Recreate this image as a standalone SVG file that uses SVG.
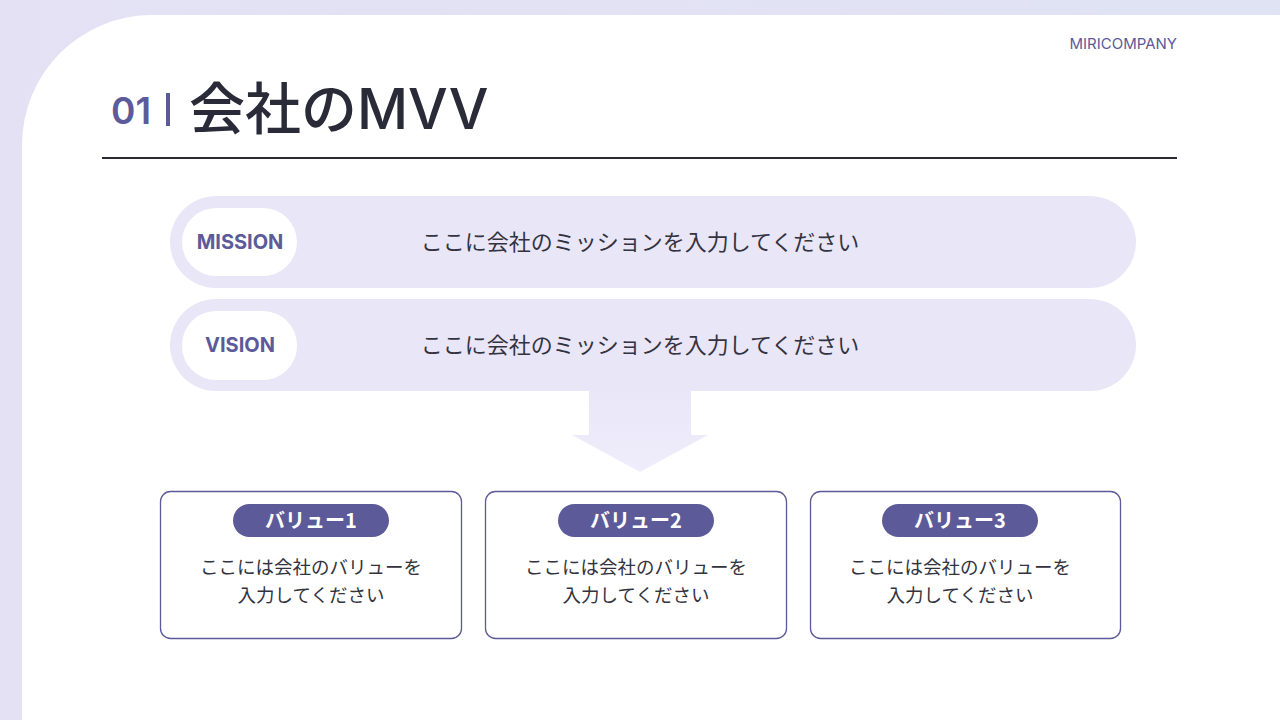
<svg xmlns="http://www.w3.org/2000/svg" width="1280" height="720" viewBox="0 0 1280 720">
<defs>
<linearGradient id="bg" x1="0" y1="0" x2="1" y2="0">
<stop offset="0" stop-color="#e4e1f4"/>
<stop offset="1" stop-color="#dfe3f3"/>
</linearGradient>
<linearGradient id="arr" x1="0" y1="0" x2="0" y2="1">
<stop offset="0" stop-color="#e9e6f8"/>
<stop offset="1" stop-color="#efedfb"/>
</linearGradient>
<style>
.pill{fill:#e9e6f8}
.inner{fill:#ffffff}
.lbl{font-family:Inter,"Noto Sans",sans-serif;font-weight:700;font-size:20px;fill:#5c5a99;text-anchor:middle}
.msg{font-family:"Noto Sans CJK JP",sans-serif;font-size:22px;fill:#333340;text-anchor:middle}
.box{fill:#ffffff;stroke:#5c5a99;stroke-width:1.3}
.tag{fill:#5c5a99}
.tagt{font-family:"Noto Sans CJK JP",sans-serif;font-weight:700;font-size:20px;fill:#ffffff;text-anchor:middle}
.body{font-family:"Noto Sans CJK JP",sans-serif;font-size:18.5px;fill:#333340;text-anchor:middle}
</style>
</defs>
<rect width="1280" height="720" fill="url(#bg)"/>
<path d="M152 15 H1280 V720 H22 V145 A130 130 0 0 1 152 15 Z" fill="#ffffff"/>
<g id="header">
<text x="1177" y="49" text-anchor="end" font-family="Inter,'Noto Sans',sans-serif" font-size="15" fill="#5c5a99">MIRICOMPANY</text>
<text x="111" y="124" font-family="Inter,'Noto Sans',sans-serif" font-size="37" font-weight="600" fill="#5c5a99">01</text>
<rect x="166" y="93" width="4" height="33" fill="#5c5a99"/>
<text x="189" y="129" font-family="Inter,'Noto Sans CJK JP',sans-serif" font-size="56" font-weight="500" fill="#2a2a38">会社のMVV</text>
<line x1="102" y1="158" x2="1177" y2="158" stroke="#2a2a35" stroke-width="2"/>
</g>
<g id="mission">
<rect class="pill" x="170" y="196" width="966" height="92" rx="46"/>
<rect class="inner" x="182" y="208" width="115" height="68" rx="34"/>
<text class="lbl" x="240" y="249">MISSION</text>
<text class="msg" x="640" y="250">ここに会社のミッションを入力してください</text>
</g>
<g id="vision">
<rect class="pill" x="170" y="299" width="966" height="92" rx="46"/>
<rect class="inner" x="182" y="311" width="115" height="69" rx="34"/>
<text class="lbl" x="240" y="352">VISION</text>
<text class="msg" x="640" y="353">ここに会社のミッションを入力してください</text>
</g>
<g id="connectors">
<path d="M589 391 H691 V435 H708 L640 472 L572 435 H589 Z" fill="url(#arr)"/>
</g>
<g id="value1">
<rect class="box" x="160.5" y="491.5" width="301" height="147" rx="10"/>
<rect class="tag" x="233" y="504" width="156" height="33" rx="16.5"/>
<text class="tagt" x="311" y="528">バリュー1</text>
<text class="body" x="311" y="574">ここには会社のバリューを</text>
<text class="body" x="311" y="602">入力してください</text>
</g>
<g id="value2">
<rect class="box" x="485.5" y="491.5" width="301" height="147" rx="10"/>
<rect class="tag" x="558" y="504" width="156" height="33" rx="16.5"/>
<text class="tagt" x="636" y="528">バリュー2</text>
<text class="body" x="636" y="574">ここには会社のバリューを</text>
<text class="body" x="636" y="602">入力してください</text>
</g>
<g id="value3">
<rect class="box" x="810.5" y="491.5" width="310" height="147" rx="10"/>
<rect class="tag" x="882" y="504" width="156" height="33" rx="16.5"/>
<text class="tagt" x="960" y="528">バリュー3</text>
<text class="body" x="960" y="574">ここには会社のバリューを</text>
<text class="body" x="960" y="602">入力してください</text>
</g>
</svg>
